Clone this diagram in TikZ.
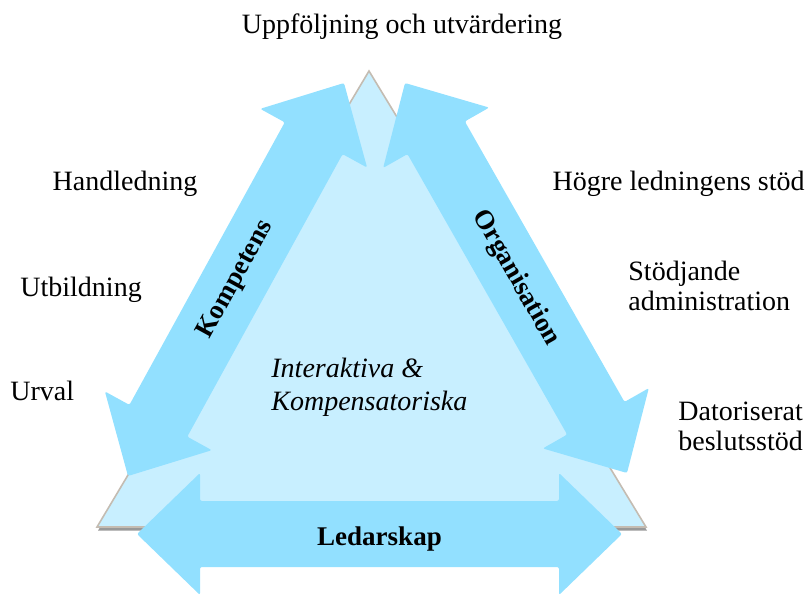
\documentclass[tikz,border=0pt]{standalone}
\usepackage{fontspec}
\setmainfont{Liberation Serif}
\usetikzlibrary{calc,shadows}

\definecolor{arrowblue}{RGB}{146,224,255}
\definecolor{paleblue}{RGB}{200,239,255}
\definecolor{rimgray}{RGB}{196,188,178}

\tikzset{
  lbl/.style={inner sep=0pt, align=left, font=\fontsize{14}{15}\selectfont},
  blockarrow/.style={fill=arrowblue, rounded corners=1pt},
  arrowlbl/.style={inner sep=0pt, sloped, font=\bfseries\fontsize{13.5}{15}\selectfont},
}

% double block arrow from tip #1 to tip #2, label #3 in the middle (#4: extra label options)
\newcommand{\dblarrow}[4]{%
  \fill[blockarrow] (#1)
    -- ($(#1)!31.5pt!(#2)!30.5pt!90:(#2)$)
    -- ($(#1)!31.5pt!(#2)!16.5pt!90:(#2)$)
    -- ($(#2)!31.5pt!(#1)!16.5pt!-90:(#1)$)
    -- ($(#2)!31.5pt!(#1)!30.5pt!-90:(#1)$)
    -- (#2)
    -- ($(#2)!31.5pt!(#1)!30.5pt!90:(#1)$)
    -- ($(#2)!31.5pt!(#1)!16.5pt!90:(#1)$)
    -- ($(#1)!31.5pt!(#2)!16.5pt!-90:(#2)$)
    -- ($(#1)!31.5pt!(#2)!30.5pt!-90:(#2)$)
    -- cycle;
  \path (#1) -- node[arrowlbl,#4] {#3} (#2);
}

\begin{document}
\begin{tikzpicture}[x=0.5pt,y=-0.5pt]
  \useasboundingbox (0,0) rectangle (808,595);

  % triangle
  \coordinate (apex) at (369,71);
  \coordinate (bl) at (97,527);
  \coordinate (br) at (646,527);
  \draw[draw=rimgray, line width=0.8pt, fill=paleblue,
    drop shadow={shadow xshift=0.5pt, shadow yshift=-1.8pt, fill=black, opacity=0.4}]
    (apex) -- (br) -- (bl) -- cycle;

  % arrow tips
  \coordinate (kompA) at (128,476);
  \coordinate (kompB) at (344,83);
  \coordinate (orgA) at (405,83);
  \coordinate (orgB) at (627,473);
  \coordinate (ledA) at (137,534);
  \coordinate (ledB) at (622,534);

  \dblarrow{kompA}{kompB}{Kompetens}{}
  \dblarrow{orgA}{orgB}{Organisation}{}
  \dblarrow{ledA}{ledB}{Ledarskap}{yshift=-2.5pt}

  \node[lbl, anchor=base west, font=\itshape\fontsize{14}{16.5}\selectfont] (mid)
    at (271,410) {Interaktiva \&\\Kompensatoriska};

  % labels round the triangle
  \node[lbl, anchor=base] (uppf) at (402,33) {Uppföljning och utvärdering};
  \node[lbl, anchor=base] (handl) at (125,190) {Handledning};
  \node[lbl, anchor=base west] (utb) at (20,296) {Utbildning};
  \node[lbl, anchor=base west] (urval) at (10,400) {Urval};
  \node[lbl, anchor=base east] (hogre) at (805,190) {Högre ledningens stöd};
  \node[lbl, anchor=base west] (stod) at (628,310) {Stödjande\\administration};
  \node[lbl, anchor=base west] (dator) at (678,450) {Datoriserat\\beslutsstöd};
\end{tikzpicture}
\end{document}
